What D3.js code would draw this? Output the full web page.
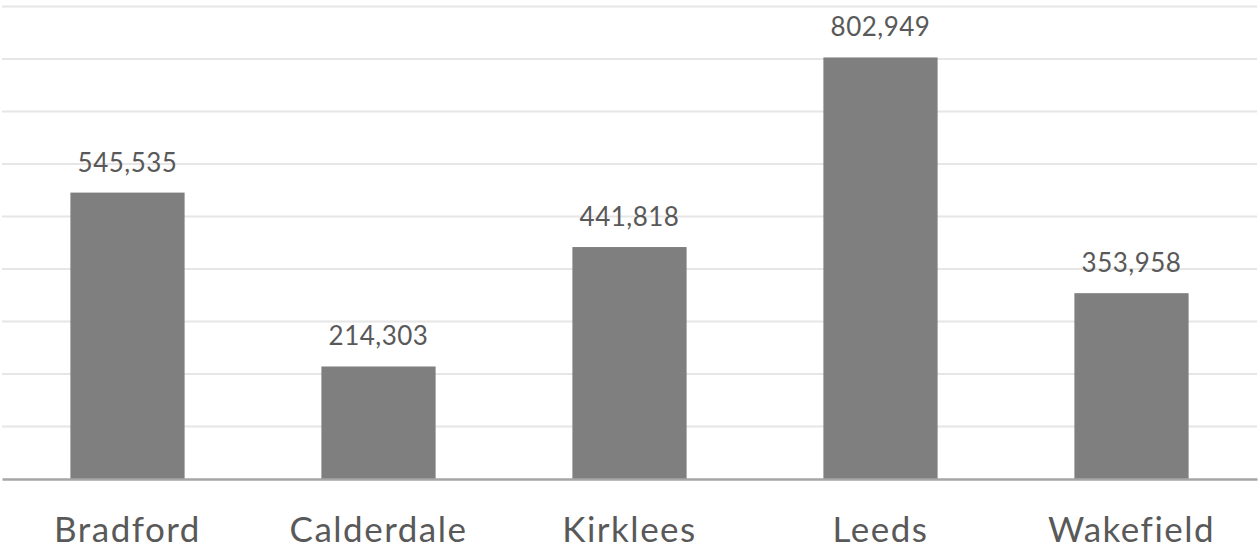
<!DOCTYPE html>
<html>
<head>
<meta charset="utf-8">
<script src="https://cdn.jsdelivr.net/npm/d3@7"></script>
<style>
  html, body { margin: 0; padding: 0; background: #ffffff; }
  svg { display: block; }
</style>
</head>
<body>
<svg id="chart" width="1260" height="548"></svg>
<script>
// Population by West Yorkshire district
const districts = ["Bradford", "Calderdale", "Kirklees", "Leeds", "Wakefield"];
const population = [545535, 214303, 441818, 802949, 353958];
const gridValues = [100000, 200000, 300000, 400000, 500000, 600000, 700000, 800000, 900000];

const svg = d3.select("#chart");
const plotLeft = 2, plotRight = 1257, baseline = 479, plotTop = 6.5;

const x = d3.scaleBand().domain(districts).range([plotLeft, plotRight]).paddingInner(0.545).paddingOuter(0.2725);
const y = d3.scaleLinear().domain([0, 900000]).range([baseline, plotTop]);

// horizontal gridlines
svg.append("g")
  .selectAll("line")
  .data(gridValues)
  .join("line")
  .attr("x1", plotLeft).attr("x2", plotRight)
  .attr("y1", d => y(d)).attr("y2", d => y(d))
  .attr("stroke", "#e6e6e6")
  .attr("stroke-width", 2);

// bars
svg.append("g")
  .selectAll("rect")
  .data(districts)
  .join("rect")
  .attr("x", d => x(d))
  .attr("width", x.bandwidth())
  .attr("y", (d, i) => y(population[i]))
  .attr("height", (d, i) => baseline - y(population[i]))
  .attr("fill", "#7f7f7f");

// category axis
const xAxis = d3.axisBottom(x).tickSize(0).tickPadding(38);
const gx = svg.append("g").attr("transform", `translate(0,${baseline})`).call(xAxis);
gx.select(".domain").attr("stroke", "#a6a6a6").attr("stroke-width", 2.5);
gx.selectAll("text")
  .attr("fill", "#595959")
  .style("font-family", "Lato, 'Open Sans', sans-serif")
  .style("font-size", "35px")
  .style("letter-spacing", "1.5px");

// value labels
const fmt = d3.format(",");
svg.append("g")
  .selectAll("text")
  .data(districts)
  .join("text")
  .attr("x", d => x(d) + x.bandwidth() / 2)
  .attr("y", (d, i) => y(population[i]) - 21)
  .attr("text-anchor", "middle")
  .attr("fill", "#595959")
  .style("font-family", "Lato, 'Open Sans', sans-serif")
  .style("font-size", "26px")
  .style("letter-spacing", "0.5px")
  .text((d, i) => fmt(population[i]));
</script>
</body>
</html>
